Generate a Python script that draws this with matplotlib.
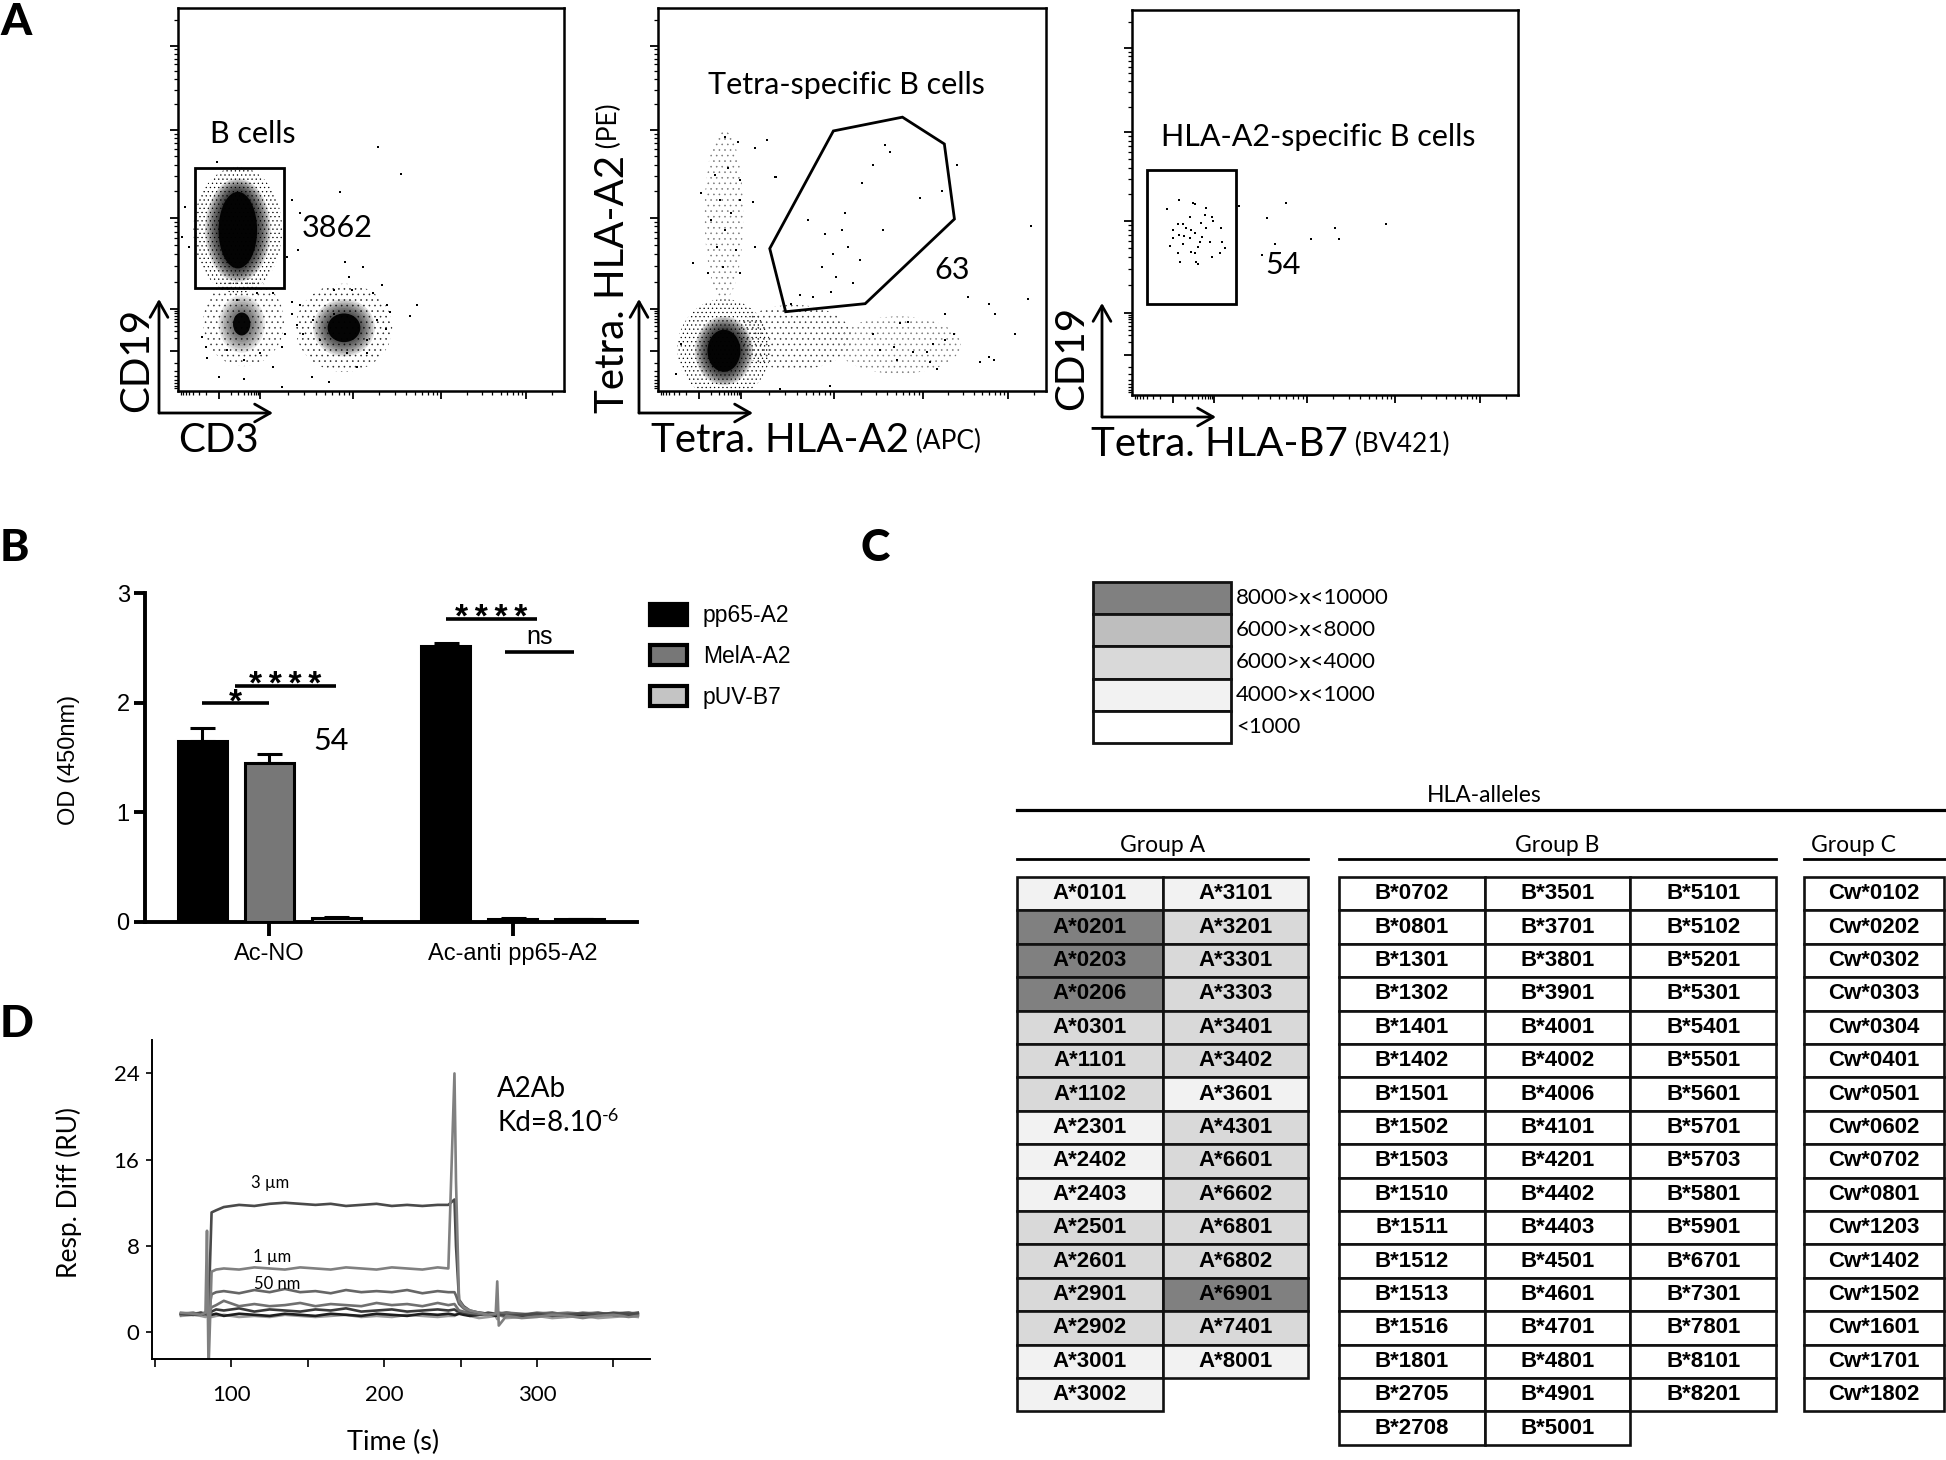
import numpy as np
import matplotlib
matplotlib.use("Agg")
import matplotlib.pyplot as plt
from matplotlib.patches import Rectangle, Ellipse, Polygon, FancyArrowPatch

W, H = 1946, 1460
plt.rcParams['font.family'] = ['Lato', 'DejaVu Sans']
plt.rcParams['hatch.linewidth'] = 0.4
ARIAL = ['Liberation Sans', 'DejaVu Sans']

# ======================= DATA =======================
# ---- Panel A: flow cytometry (display-scale fractions of each plot) ----
# plot 1 : CD3 (x) vs CD19 (y)   dense population cores
a1_pop_x = [0.155, 0.165, 0.43]
a1_pop_y = [0.42, 0.175, 0.165]
a1_core_w = [0.10, 0.045, 0.085]
a1_core_h = [0.20, 0.06, 0.075]
a1_halo_w = [0.17, 0.12, 0.16]
a1_halo_h = [0.27, 0.15, 0.15]
a1_halo_a = [0.75, 0.45, 0.6]
# diffuse (sparse-event) regions: centre, size, event density, shade
a1_sparse_x = [0.155, 0.17, 0.43]
a1_sparse_y = [0.42, 0.18, 0.165]
a1_sparse_w = [0.23, 0.21, 0.25]
a1_sparse_h = [0.33, 0.23, 0.23]
a1_sparse_d = ['....', '...', '...']
a1_sparse_c = ['#000000', '#333333', '#222222']
a1_dots_x = [0.519, 0.578, 0.42, 0.101, 0.028, 0.01, 0.019, 0.295, 0.316, 0.282, 0.312, 0.433,
             0.48, 0.442, 0.528, 0.45, 0.618, 0.601, 0.549, 0.539, 0.316, 0.295, 0.278, 0.269,
             0.247, 0.17, 0.105, 0.075, 0.073, 0.062, 0.269, 0.347, 0.39, 0.463, 0.437, 0.489,
             0.489, 0.368, 0.325, 0.308, 0.295, 0.247, 0.204, 0.153, 0.127, 0.213, 0.17, 0.403,
             0.506, 0.515, 0.541, 0.403, 0.351]
a1_dots_y = [0.638, 0.567, 0.519, 0.597, 0.377, 0.403, 0.481, 0.499, 0.464, 0.35, 0.368, 0.337,
             0.324, 0.298, 0.276, 0.265, 0.224, 0.195, 0.207, 0.163, 0.224, 0.202, 0.15, 0.115,
             0.063, 0.032, 0.037, 0.085, 0.115, 0.141, 0.01, 0.037, 0.024, 0.063, 0.098, 0.098,
             0.133, 0.133, 0.15, 0.172, 0.233, 0.255, 0.255, 0.237, 0.106, 0.098, 0.08, 0.263,
             0.255, 0.185, 0.224, 0.202, 0.185]
a1_gate_x = [0.044, 0.275]
a1_gate_y = [0.268, 0.582]
a1_gate_name = "B cells"
a1_count = "3862"

# plot 2 : Tetra HLA-A2 APC (x) vs PE (y)
a2_pop_x = [0.17]
a2_pop_y = [0.105]
a2_core_w = [0.085]
a2_core_h = [0.11]
a2_halo_w = [0.15]
a2_halo_h = [0.18]
a2_halo_a = [0.75]
a2_sparse_x = [0.17, 0.35, 0.62, 0.17]
a2_sparse_y = [0.11, 0.14, 0.12, 0.46]
a2_sparse_w = [0.24, 0.30, 0.32, 0.10]
a2_sparse_h = [0.26, 0.17, 0.15, 0.44]
a2_sparse_d = ['....', '...', '...', '...']
a2_sparse_c = ['#000000', '#333333', '#777777', '#777777']
a2_dots_x = [0.172, 0.207, 0.28, 0.25, 0.146, 0.181, 0.211, 0.112, 0.159, 0.189, 0.211, 0.136,
             0.172, 0.151, 0.202, 0.25, 0.168, 0.211, 0.129, 0.09, 0.301, 0.245,
             0.585, 0.598, 0.555, 0.525, 0.674, 0.731, 0.77, 0.482, 0.387, 0.43, 0.473, 0.49,
             0.581, 0.452, 0.521, 0.422, 0.46, 0.503, 0.366, 0.4, 0.344, 0.305, 0.447,
             0.962, 0.8, 0.852, 0.954, 0.869, 0.921, 0.852, 0.866, 0.74, 0.763, 0.74, 0.71,
             0.693, 0.658, 0.624, 0.645, 0.607, 0.615, 0.718, 0.701, 0.555, 0.573, 0.83,
             0.06, 0.047, 0.443, 0.314]
a2_dots_y = [0.664, 0.651, 0.656, 0.634, 0.564, 0.582, 0.551, 0.518, 0.499, 0.464, 0.499, 0.446,
             0.42, 0.377, 0.368, 0.377, 0.324, 0.307, 0.307, 0.333, 0.56, 0.494,
             0.641, 0.625, 0.59, 0.544, 0.505, 0.522, 0.59, 0.464, 0.446, 0.41, 0.42, 0.377,
             0.42, 0.359, 0.342, 0.324, 0.298, 0.281, 0.25, 0.246, 0.228, 0.56, 0.259,
             0.431, 0.246, 0.228, 0.241, 0.202, 0.15, 0.089, 0.08, 0.202, 0.15, 0.133, 0.124,
             0.102, 0.102, 0.178, 0.18, 0.115, 0.08, 0.058, 0.076, 0.15, 0.106, 0.076,
             0.124, 0.045, 0.012, 0.006]
a2_gate_x = [0.288, 0.452, 0.630, 0.738, 0.764, 0.534, 0.329]
a2_gate_y = [0.372, 0.679, 0.715, 0.645, 0.449, 0.228, 0.207]
a2_gate_name = "Tetra-specific B cells"
a2_count = "63"

# plot 3 : Tetra HLA-B7 BV421 (x) vs CD19 (y)
a3_dots_x = [0.123, 0.091, 0.158, 0.164, 0.191, 0.149, 0.188, 0.206, 0.21, 0.119, 0.132, 0.141,
             0.154, 0.191, 0.231, 0.105, 0.123, 0.162, 0.182, 0.106, 0.149, 0.175, 0.201, 0.234,
             0.099, 0.132, 0.171, 0.24, 0.119, 0.154, 0.162, 0.229, 0.208, 0.125, 0.166, 0.171,
             0.136, 0.18,
             0.276, 0.35, 0.398, 0.371, 0.337, 0.463, 0.525, 0.536, 0.659]
a3_dots_y = [0.506, 0.483, 0.5, 0.496, 0.487, 0.463, 0.468, 0.463, 0.453, 0.444, 0.444, 0.433,
             0.429, 0.433, 0.433, 0.429, 0.416, 0.42, 0.411, 0.407, 0.407, 0.398, 0.398, 0.398,
             0.387, 0.392, 0.385, 0.381, 0.368, 0.372, 0.368, 0.368, 0.358, 0.346, 0.345, 0.34,
             0.413, 0.448,
             0.491, 0.461, 0.5, 0.391, 0.364, 0.404, 0.433, 0.404, 0.444]
a3_gate_x = [0.04, 0.269]
a3_gate_y = [0.236, 0.584]
a3_gate_name = "HLA-A2-specific B cells"
a3_count = "54"

# ---- Panel B: ELISA ----
b_groups = ["Ac-NO", "Ac-anti pp65-A2"]
b_series = ["pp65-A2", "MelA-A2", "pUV-B7"]
od_pp65 = [1.65, 2.515]
od_mela = [1.45, 0.03]
od_puv = [0.04, 0.025]
sem_pp65 = [0.12, 0.03]
sem_mela = [0.08, 0.006]
sem_puv = [0.01, 0.004]
sig_x0 = [-0.275, -0.14, 0.725, 0.97]
sig_x1 = [0.0, 0.275, 1.10, 1.25]
sig_y = [1.995, 2.156, 2.762, 2.461]
sig_label = ["*", "****", "****", "ns"]
b_note = "54"

# ---- Panel C: HLA single antigen beads (MFI classes) ----
mfi_classes = ["8000>x<10000", "6000>x<8000", "6000>x<4000", "4000>x<1000", "<1000"]
groupA_col1 = ["A*0101", "A*0201", "A*0203", "A*0206", "A*0301", "A*1101", "A*1102", "A*2301",
               "A*2402", "A*2403", "A*2501", "A*2601", "A*2901", "A*2902", "A*3001", "A*3002"]
groupA_col1_cls = [3, 0, 0, 0, 2, 2, 2, 3, 3, 3, 2, 2, 2, 2, 3, 3]
groupA_col2 = ["A*3101", "A*3201", "A*3301", "A*3303", "A*3401", "A*3402", "A*3601", "A*4301",
               "A*6601", "A*6602", "A*6801", "A*6802", "A*6901", "A*7401", "A*8001"]
groupA_col2_cls = [3, 2, 2, 2, 2, 2, 3, 2, 2, 2, 2, 2, 0, 2, 3]
groupB_col1 = ["B*0702", "B*0801", "B*1301", "B*1302", "B*1401", "B*1402", "B*1501", "B*1502",
               "B*1503", "B*1510", "B*1511", "B*1512", "B*1513", "B*1516", "B*1801", "B*2705", "B*2708"]
groupB_col2 = ["B*3501", "B*3701", "B*3801", "B*3901", "B*4001", "B*4002", "B*4006", "B*4101",
               "B*4201", "B*4402", "B*4403", "B*4501", "B*4601", "B*4701", "B*4801", "B*4901", "B*5001"]
groupB_col3 = ["B*5101", "B*5102", "B*5201", "B*5301", "B*5401", "B*5501", "B*5601", "B*5701",
               "B*5703", "B*5801", "B*5901", "B*6701", "B*7301", "B*7801", "B*8101", "B*8201"]
groupC_col1 = ["Cw*0102", "Cw*0202", "Cw*0302", "Cw*0303", "Cw*0304", "Cw*0401", "Cw*0501",
               "Cw*0602", "Cw*0702", "Cw*0801", "Cw*1203", "Cw*1402", "Cw*1502", "Cw*1601",
               "Cw*1701", "Cw*1802"]

# ---- Panel D: SPR sensorgram ----
t_s = [67, 75, 80, 83, 84, 85, 87, 90, 95, 105, 115, 125, 135, 145, 155, 165, 175, 185, 195, 205,
       215, 225, 235, 242, 246, 247, 249, 252, 256, 262, 268, 273, 274, 275, 280, 290, 300, 310,
       320, 330, 340, 350, 360, 366]
ru_3um = [1.7, 1.6, 1.8, 1.7, 1.7, 1.8, 11.1, 11.3, 11.6, 11.8, 11.7, 11.9, 12.0, 11.9, 11.8, 11.9,
          11.7, 11.8, 11.9, 11.7, 11.8, 11.7, 11.8, 11.8, 12.3, 8.0, 3.0, 2.4, 2.0, 1.8, 1.7, 1.6,
          1.7, 1.6, 1.5, 1.6, 1.7, 1.5, 1.6, 1.7, 1.6, 1.8, 1.7, 1.7]
ru_1um = [1.8, 1.7, 1.6, 1.8, 9.4, -3.5, 5.6, 5.8, 5.9, 5.8, 6.0, 5.9, 5.8, 6.0, 5.9, 5.8, 6.0,
          5.9, 5.8, 6.0, 5.9, 5.8, 6.0, 5.9, 24.0, 14.0, 2.9, 2.3, 2.0, 1.8, 1.6, 1.7, 4.7, 0.6,
          1.5, 1.3, 1.4, 1.6, 1.5, 1.3, 1.5, 1.6, 1.4, 1.5]
ru_50nm = [1.7, 1.8, 1.6, 1.7, 1.7, 1.8, 3.5, 3.7, 3.8, 3.6, 3.9, 3.7, 4.0, 3.7, 3.8, 3.6, 3.9,
           3.7, 3.8, 3.7, 3.9, 3.6, 3.8, 3.7, 3.7, 3.4, 2.6, 2.2, 1.9, 1.8, 1.7, 1.6, 1.7, 1.8,
           1.7, 1.6, 1.8, 1.7, 1.6, 1.8, 1.7, 1.7, 1.8, 1.7]
ru_c4 = [1.6, 1.7, 1.8, 1.6, 1.7, 1.7, 2.3, 2.5, 2.9, 2.4, 2.6, 2.4, 2.5, 2.7, 2.4, 2.6, 2.5, 2.4,
         2.7, 2.5, 2.6, 2.4, 2.7, 2.5, 2.6, 2.4, 2.0, 1.9, 1.8, 1.7, 1.6, 1.7, 1.6, 1.7, 1.8, 1.7,
         1.6, 1.7, 1.8, 1.7, 1.6, 1.7, 1.8, 1.6]
ru_c5 = [1.7, 1.6, 1.7, 1.8, 1.7, 1.6, 1.9, 2.1, 2.0, 2.2, 1.9, 2.1, 2.0, 1.9, 2.1, 2.0, 2.2, 1.9,
         2.0, 2.1, 1.9, 2.0, 2.1, 2.0, 2.1, 2.0, 1.9, 1.8, 1.7, 1.6, 1.8, 1.7, 1.6, 1.7, 1.8, 1.6,
         1.7, 1.8, 1.6, 1.7, 1.8, 1.6, 1.7, 1.8]
ru_c6 = [1.6, 1.7, 1.6, 1.7, 1.6, 1.7, 1.6, 1.7, 1.5, 1.7, 1.6, 1.5, 1.7, 1.6, 1.5, 1.7, 1.6, 1.5,
         1.7, 1.6, 1.5, 1.7, 1.6, 1.7, 1.6, 1.6, 1.7, 1.6, 1.5, 1.6, 1.7, 1.5, 1.6, 1.7, 1.6, 1.5,
         1.7, 1.6, 1.5, 1.6, 1.7, 1.6, 1.5, 1.6]
ru_c7 = [1.5, 1.6, 1.5, 1.4, 1.5, 1.6, 1.4, 1.5, 1.6, 1.4, 1.5, 1.4, 1.6, 1.5, 1.4, 1.5, 1.6, 1.4,
         1.5, 1.4, 1.6, 1.5, 1.4, 1.5, 1.5, 1.6, 2.0, 1.7, 1.5, 1.3, 1.4, 1.5, 1.2, 1.6, 1.3, 1.4,
         1.5, 1.3, 1.4, 1.5, 1.3, 1.4, 1.5, 1.4]
conc_labels = ["3 \u00b5m", "1 \u00b5m", "50 nm"]
conc_label_t = [113, 114, 115]
conc_label_ru = [13.8, 6.95, 4.5]

# ======================= FIGURE =======================
fig = plt.figure(figsize=(W / 100, H / 100), dpi=100)


def fax(x0, y0, x1, y1):
    return fig.add_axes([x0 / W, 1 - y1 / H, (x1 - x0) / W, (y1 - y0) / H])


ov = fig.add_axes([0, 0, 1, 1], zorder=20)
ov.set_xlim(0, W)
ov.set_ylim(H, 0)
ov.axis('off')
ov.patch.set_visible(False)

# ---------------- Panel A ----------------
MAJ = [0.105, 0.213, 0.453, 0.682, 0.902]


def flow_minor(maj):
    m = []
    d0 = maj[1] - maj[0]
    for k in range(2, 10):
        p = maj[0] - d0 * np.log10(k)
        if p > 0.003:
            m.append(p)
    for i in range(len(maj) - 1):
        for k in range(2, 10):
            m.append(maj[i] + (maj[i + 1] - maj[i]) * np.log10(k))
    d = maj[-1] - maj[-2]
    for k in range(2, 10):
        p = maj[-1] + d * np.log10(k)
        if p < 0.995:
            m.append(p)
    return m


def flow_axes(box):
    ax = fax(*box)
    ax.set_xlim(0, 1)
    ax.set_ylim(0, 1)
    for s in ax.spines.values():
        s.set_linewidth(1.8)
    ax.set_xticks(MAJ)
    ax.set_yticks(MAJ)
    ax.set_xticks(flow_minor(MAJ), minor=True)
    ax.set_yticks(flow_minor(MAJ), minor=True)
    ax.set_xticklabels([])
    ax.set_yticklabels([])
    ax.tick_params(which='major', direction='out', length=6, width=1.3)
    ax.tick_params(which='minor', direction='out', length=3, width=0.9)
    return ax


def draw_sparse(ax, xs, ys, ws, hs, ds, cs):
    for x, y, w, h, d, c in zip(xs, ys, ws, hs, ds, cs):
        ax.add_patch(Ellipse((x, y), w, h, facecolor='none', edgecolor=c, hatch=d, lw=0))


def draw_pops(ax, xs, ys, cw, ch, hw, hh, ha):
    nl = 8
    for x, y, a, b, c, d, al in zip(xs, ys, cw, ch, hw, hh, ha):
        for j in range(nl):
            f = j / nl
            ax.add_patch(Ellipse((x, y), c + (a - c) * f, d + (b - d) * f, facecolor='black',
                                 alpha=al / nl * 1.6, lw=0))
        ax.add_patch(Ellipse((x, y), a, b, facecolor='black', alpha=0.95, lw=0))


def dots(ax, xs, ys):
    ax.scatter(xs, ys, s=3.5, c='black', marker='s', lw=0)


ax1 = flow_axes((178, 8, 564, 391))
draw_sparse(ax1, a1_sparse_x, a1_sparse_y, a1_sparse_w, a1_sparse_h, a1_sparse_d, a1_sparse_c)
draw_pops(ax1, a1_pop_x, a1_pop_y, a1_core_w, a1_core_h, a1_halo_w, a1_halo_h, a1_halo_a)
dots(ax1, a1_dots_x, a1_dots_y)
ax1.add_patch(Rectangle((a1_gate_x[0], a1_gate_y[0]), a1_gate_x[1] - a1_gate_x[0],
                        a1_gate_y[1] - a1_gate_y[0], fill=False, lw=2, ec='black'))
ax1.text(0.083, 0.671, a1_gate_name, fontsize=22, ha='left', va='center', transform=ax1.transAxes)
ax1.text(0.321, 0.426, a1_count, fontsize=22, ha='left', va='center', transform=ax1.transAxes)

ax2 = flow_axes((658, 8, 1046, 391))
draw_sparse(ax2, a2_sparse_x, a2_sparse_y, a2_sparse_w, a2_sparse_h, a2_sparse_d, a2_sparse_c)
draw_pops(ax2, a2_pop_x, a2_pop_y, a2_core_w, a2_core_h, a2_halo_w, a2_halo_h, a2_halo_a)
dots(ax2, a2_dots_x, a2_dots_y)
ax2.add_patch(Polygon(list(zip(a2_gate_x, a2_gate_y)), closed=True, fill=False, lw=2, ec='black'))
ax2.text(0.486, 0.80, a2_gate_name, fontsize=22, ha='center', va='center', transform=ax2.transAxes)
ax2.text(0.757, 0.316, a2_count, fontsize=22, ha='center', va='center', transform=ax2.transAxes)

ax3 = flow_axes((1132, 10, 1518, 395))
dots(ax3, a3_dots_x, a3_dots_y)
ax3.add_patch(Rectangle((a3_gate_x[0], a3_gate_y[0]), a3_gate_x[1] - a3_gate_x[0],
                        a3_gate_y[1] - a3_gate_y[0], fill=False, lw=2, ec='black'))
ax3.text(0.482, 0.669, a3_gate_name, fontsize=22, ha='center', va='center', transform=ax3.transAxes)
ax3.text(0.391, 0.338, a3_count, fontsize=22, ha='center', va='center', transform=ax3.transAxes)

# axis arrows + labels for panel A
for cx, cy in [(159, 413), (639, 413), (1102, 417)]:
    for ex, ey in [(cx, cy - 114), (cx + 114, cy)]:
        ov.add_patch(FancyArrowPatch((cx, cy), (ex, ey), arrowstyle='->,head_length=7,head_width=4',
                                     lw=2.0, color='black', shrinkA=0, shrinkB=0, mutation_scale=1.6))

LBL = 29
SMALL = 19
ov.text(137, 412, "CD19", fontsize=LBL, rotation=90, ha='center', va='bottom')
ov.text(178, 441, "CD3", fontsize=LBL, ha='left', va='center')
t = ov.text(612, 413, "Tetra. HLA-A2", fontsize=LBL, rotation=90, ha='center', va='bottom')
ov.annotate(" (PE)", xy=(0.42, 1.0), xycoords=t, fontsize=SMALL, rotation=90, ha='center', va='bottom')
t = ov.text(651, 441, "Tetra. HLA-A2", fontsize=LBL, ha='left', va='center')
ov.annotate(" (APC)", xy=(1.0, 0.5), xycoords=t, fontsize=SMALL, ha='left', va='center')
ov.text(1072, 410, "CD19", fontsize=LBL, rotation=90, ha='center', va='bottom')
t = ov.text(1091, 444, "Tetra. HLA-B7", fontsize=LBL, ha='left', va='center')
ov.annotate(" (BV421)", xy=(1.0, 0.5), xycoords=t, fontsize=SMALL, ha='left', va='center')

# panel letters
for lab, x, y in [("A", 0, 2), ("B", 0, 528), ("C", 860, 528), ("D", 0, 1004)]:
    ov.text(x, y, lab, fontsize=32, fontweight='black', ha='left', va='top')

# ---------------- Panel B ----------------
axb = fax(145, 593, 637, 922)
xg = np.arange(len(b_groups))
off = 0.275
bw = 0.2
bar_cols = ['black', '#777777', '#c4c4c4']
vals = [od_pp65, od_mela, od_puv]
sems = [sem_pp65, sem_mela, sem_puv]
for i in range(3):
    axb.bar(xg + (i - 1) * off, vals[i], width=bw, color=bar_cols[i], edgecolor='black', lw=2.2,
            label=b_series[i], zorder=3)
    axb.errorbar(xg + (i - 1) * off, vals[i], yerr=[np.zeros(2), sems[i]], fmt='none',
                 ecolor='black', elinewidth=2.2, capsize=9, capthick=2.2, zorder=2)
axb.set_xlim(-0.51, 1.51)
axb.set_ylim(0, 3)
axb.spines['top'].set_visible(False)
axb.spines['right'].set_visible(False)
axb.spines['left'].set_linewidth(2.8)
axb.spines['bottom'].set_linewidth(2.8)
axb.set_yticks([0, 1, 2, 3])
axb.set_xticks(xg)
axb.set_xticklabels(b_groups, fontsize=17, family=ARIAL)
for lab in axb.get_yticklabels():
    lab.set_fontsize(17)
    lab.set_family(ARIAL)
axb.tick_params(axis='y', direction='out', length=8, width=2.8, pad=3)
axb.tick_params(axis='x', direction='out', length=10, width=2.8, pad=5)
for x0, x1, y, lab in zip(sig_x0, sig_x1, sig_y, sig_label):
    axb.plot([x0, x1], [y, y], color='black', lw=2.6, solid_capstyle='butt', clip_on=False)
    if lab == 'ns':
        axb.annotate(lab, xy=((x0 + x1) / 2, y), xytext=(0, 6), textcoords='offset points',
                     ha='center', va='baseline', fontsize=18, family=ARIAL)
    else:
        axb.annotate("\u2009".join(lab), xy=((x0 + x1) / 2, y), xytext=(0, -6),
                     textcoords='offset points', ha='center', va='baseline', fontsize=24,
                     fontweight='bold', family=ARIAL)
ov.text(331, 741, b_note, fontsize=22, ha='center', va='center')
ov.text(69, 760, "OD (450nm)", fontsize=17, rotation=90, ha='center', va='center', family=ARIAL)
leg = axb.legend(loc='upper left', bbox_to_anchor=(650 / W, 1 - 604 / H),
                 bbox_transform=fig.transFigure, frameon=False,
                 prop={'family': ARIAL, 'size': 16.5}, handlelength=1.6, handleheight=1.0,
                 labelspacing=0.78, handletextpad=0.7, borderpad=0, borderaxespad=0)
for p in leg.get_patches():
    p.set_linewidth(3.0)

# ---------------- Panel C ----------------
cls_colors = ['#808080', '#bebebe', '#d9d9d9', '#f2f2f2', '#ffffff']
lx0, lx1, ly0, lrh = 1093, 1231, 582, 32.2
for k, (lab, col) in enumerate(zip(mfi_classes, cls_colors)):
    ov.add_patch(Rectangle((lx0, ly0 + k * lrh), lx1 - lx0, lrh, facecolor=col, edgecolor='#111111',
                           lw=2.0))
    ov.text(lx1 + 5, ly0 + (k + 0.5) * lrh, lab, fontsize=16, ha='left', va='center')

ov.text(1484, 795, "HLA-alleles", fontsize=16.5, ha='center', va='center')
ov.plot([1017, 1946], [810, 810], color='black', lw=2.3)
for name, x0, x1, xc in [("Group A", 1017, 1308, 1163), ("Group B", 1339, 1776, 1557),
                         ("Group C", 1804, 1946, 1853)]:
    ov.text(xc, 845, name, fontsize=16.5, ha='center', va='center')
    ov.plot([x0, x1], [859, 859], color='black', lw=2.0)

row_top, rh = 877, 33.4
table_cols = [
    (1017, 145.5, groupA_col1, groupA_col1_cls),
    (1162.5, 145.5, groupA_col2, groupA_col2_cls),
    (1339, 145.7, groupB_col1, [4] * len(groupB_col1)),
    (1484.7, 145.7, groupB_col2, [4] * len(groupB_col2)),
    (1630.4, 145.7, groupB_col3, [4] * len(groupB_col3)),
    (1804, 140, groupC_col1, [4] * len(groupC_col1)),
]
for x0, cw, names, cls in table_cols:
    for i, (nm, c) in enumerate(zip(names, cls)):
        ov.add_patch(Rectangle((x0, row_top + i * rh), cw, rh, facecolor=cls_colors[c],
                               edgecolor='#111111', lw=1.9))
        ov.text(x0 + cw / 2, row_top + (i + 0.5) * rh, nm, fontsize=16, fontweight='bold',
                ha='center', va='center', family=ARIAL)

# ---------------- Panel D ----------------
axd = fax(152, 1040, 650, 1359)
curves = [ru_c7, ru_c6, ru_c5, ru_c4, ru_50nm, ru_3um, ru_1um]
ccols = ['#9a9a9a', '#1e1e1e', '#3a3a3a', '#707070', '#666666', '#4a4a4a', '#808080']
for ru, col in zip(curves, ccols):
    axd.plot(t_s, ru, color=col, lw=1.9)
axd.set_xlim(48, 374)
axd.set_ylim(-2.5, 27.1)
axd.spines['top'].set_visible(False)
axd.spines['right'].set_visible(False)
axd.spines['left'].set_linewidth(1.4)
axd.spines['bottom'].set_linewidth(1.4)
axd.set_yticks([0, 8, 16, 24])
axd.set_xticks([100, 200, 300])
axd.set_xticks([50, 150, 250, 350], minor=True)
axd.tick_params(axis='y', direction='out', length=4, width=1.2, pad=5, labelsize=16)
axd.tick_params(axis='x', which='both', direction='out', length=6, width=1.2, pad=13, labelsize=16)
for lab, tt, rr in zip(conc_labels, conc_label_t, conc_label_ru):
    axd.text(tt, rr, lab, fontsize=12, ha='left', va='center')
ov.text(69, 1193, "Resp. Diff (RU)", fontsize=19, rotation=90, ha='center', va='center')
ov.text(393, 1442, "Time (s)", fontsize=19.5, ha='center', va='center')
ov.text(497, 1089, "A2Ab", fontsize=20, ha='left', va='center')
t = ov.text(497, 1123, "Kd=8.10", fontsize=20, ha='left', va='center')
ov.annotate("-6", xy=(1.0, 0.78), xycoords=t, fontsize=13, ha='left', va='center')

fig.savefig("out.png", dpi=100)
